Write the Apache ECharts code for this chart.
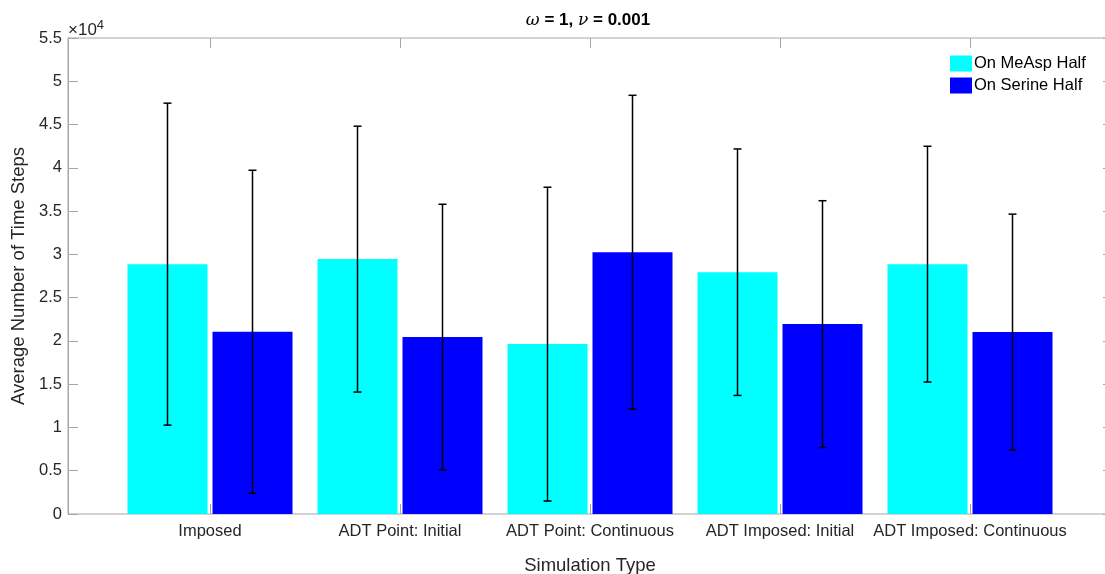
<!DOCTYPE html>
<html><head><meta charset="utf-8">
<script src="https://cdn.jsdelivr.net/npm/echarts@6/dist/echarts.min.js"></script>
<style>html,body{margin:0;padding:0;background:#fff}#c{width:1105px;height:574px}</style>
</head><body><div id="c"></div>
<script>
const categories = ['Imposed', 'ADT Point: Initial', 'ADT Point: Continuous', 'ADT Imposed: Initial', 'ADT Imposed: Continuous'];
const measpMean = [28870, 29450, 19630, 27940, 28870];
const measpStd  = [18600, 15360, 18130, 14240, 13620];
const serineMean = [21050, 20440, 30250, 21940, 21020];
const serineStd  = [18670, 15350, 18130, 14260, 13630];
const yTickLabels = ['0', '0.5', '1', '1.5', '2', '2.5', '3', '3.5', '4', '4.5', '5', '5.5'];
const seriesNames = ['On MeAsp Half', 'On Serine Half'];

const FONT = 'Liberation Sans, Arial, Helvetica, sans-serif';
const AX = '#a6a6a6';
const TXT = '#262626';
const BAR_W = 80, BAR_GAP = 5;

function errData(means, stds) { return means.map((m, i) => [i, m, stds[i]]); }
function errRender(offset) {
  return function (params, api) {
    const idx = api.value(0), m = api.value(1), s = api.value(2);
    const top = api.coord([idx, m + s]);
    const bot = api.coord([idx, m - s]);
    const x = top[0] + offset;
    const cap = 4;
    const style = { stroke: '#000', lineWidth: 1.5 };
    return { type: 'group', children: [
      { type: 'line', shape: { x1: x, y1: top[1], x2: x, y2: bot[1] }, style },
      { type: 'line', shape: { x1: x - cap, y1: top[1], x2: x + cap, y2: top[1] }, style },
      { type: 'line', shape: { x1: x - cap, y1: bot[1], x2: x + cap, y2: bot[1] }, style }
    ]};
  };
}
const off = (BAR_W + BAR_GAP) / 2;

const chart = echarts.init(document.getElementById('c'), null, { renderer: 'canvas' });
chart.setOption({
  animation: false,
  backgroundColor: '#fff',
  textStyle: { fontFamily: FONT },
  grid: [
    { left: 68, width: 1045, top: 38, height: 476, show: true, borderColor: AX, borderWidth: 1,
      containLabel: false, outerBoundsMode: 'none' },
    { left: 115, width: 950, top: 38, height: 476, containLabel: false, outerBoundsMode: 'none' }
  ],
  graphic: [
    { type: 'text', x: 588, y: 12, style: {
      text: '{i|ω} = 1, {i|ν} = 0.001', font: 'bold 17px ' + FONT, fill: '#000', align: 'center',
      rich: { i: { fontStyle: 'italic', fontWeight: 'normal', fontSize: 17, fontFamily: 'DejaVu Serif, serif' } } } },
    { type: 'text', x: 68, y: 19, style: {
      text: '×10{s|4}', font: '17px ' + FONT, fill: TXT,
      rich: { s: { fontSize: 13, verticalAlign: 'top', padding: [0, 0, 9, 0] } } } }
  ],
  legend: {
    data: seriesNames, orient: 'vertical', left: 945, top: 50,
    itemWidth: 22, itemHeight: 16, itemGap: 5, icon: 'rect',
    textStyle: { fontSize: 16.5, lineHeight: 16, color: '#000', fontFamily: FONT, padding: [0, 0, 0, -3] }
  },
  xAxis: [
    { gridIndex: 0, type: 'value', min: 0, max: 1, show: false },
    { gridIndex: 1, type: 'category', data: categories, position: 'bottom',
      axisLine: { show: false },
      axisTick: { show: true, inside: true, alignWithLabel: true, length: 10, lineStyle: { color: AX } },
      axisLabel: { fontSize: 16.5, color: TXT, margin: 9, fontFamily: FONT, interval: 0 },
      name: 'Simulation Type', nameLocation: 'middle', nameGap: 42,
      nameTextStyle: { fontSize: 18.5, color: TXT, fontFamily: FONT } },
    { gridIndex: 1, type: 'category', data: categories, position: 'top',
      axisLine: { show: false },
      axisTick: { show: true, inside: true, alignWithLabel: true, length: 10, lineStyle: { color: AX } },
      axisLabel: { show: false } }
  ],
  yAxis: [
    { gridIndex: 0, type: 'value', min: 0, max: 55000, interval: 5000, position: 'left',
      axisLine: { show: true, lineStyle: { color: AX } },
      axisTick: { show: true, inside: true, length: 10, lineStyle: { color: AX } },
      splitLine: { show: false },
      axisLabel: { fontSize: 16.5, color: TXT, margin: 6, fontFamily: FONT,
        formatter: v => yTickLabels[Math.round(v / 5000)] },
      name: 'Average Number of Time Steps', nameLocation: 'middle', nameGap: 34,
      nameTextStyle: { fontSize: 18.5, color: TXT, fontFamily: FONT } },
    { gridIndex: 0, type: 'value', min: 0, max: 55000, interval: 5000, position: 'right',
      axisLine: { show: true, lineStyle: { color: AX } },
      axisTick: { show: true, inside: true, length: 10, lineStyle: { color: AX } },
      splitLine: { show: false }, axisLabel: { show: false } },
    { gridIndex: 1, type: 'value', min: 0, max: 55000, show: false }
  ],
  series: [
    { name: seriesNames[0], type: 'bar', xAxisIndex: 1, yAxisIndex: 2, data: measpMean,
      barWidth: BAR_W, barGap: (BAR_GAP / BAR_W * 100) + '%', itemStyle: { color: '#00ffff' } },
    { name: seriesNames[1], type: 'bar', xAxisIndex: 1, yAxisIndex: 2, data: serineMean,
      barWidth: BAR_W, itemStyle: { color: '#0000ff' } },
    { type: 'custom', xAxisIndex: 1, yAxisIndex: 2, data: errData(measpMean, measpStd),
      renderItem: errRender(-off), z: 10, silent: true },
    { type: 'custom', xAxisIndex: 1, yAxisIndex: 2, data: errData(serineMean, serineStd),
      renderItem: errRender(off), z: 10, silent: true }
  ]
});
</script></body></html>
